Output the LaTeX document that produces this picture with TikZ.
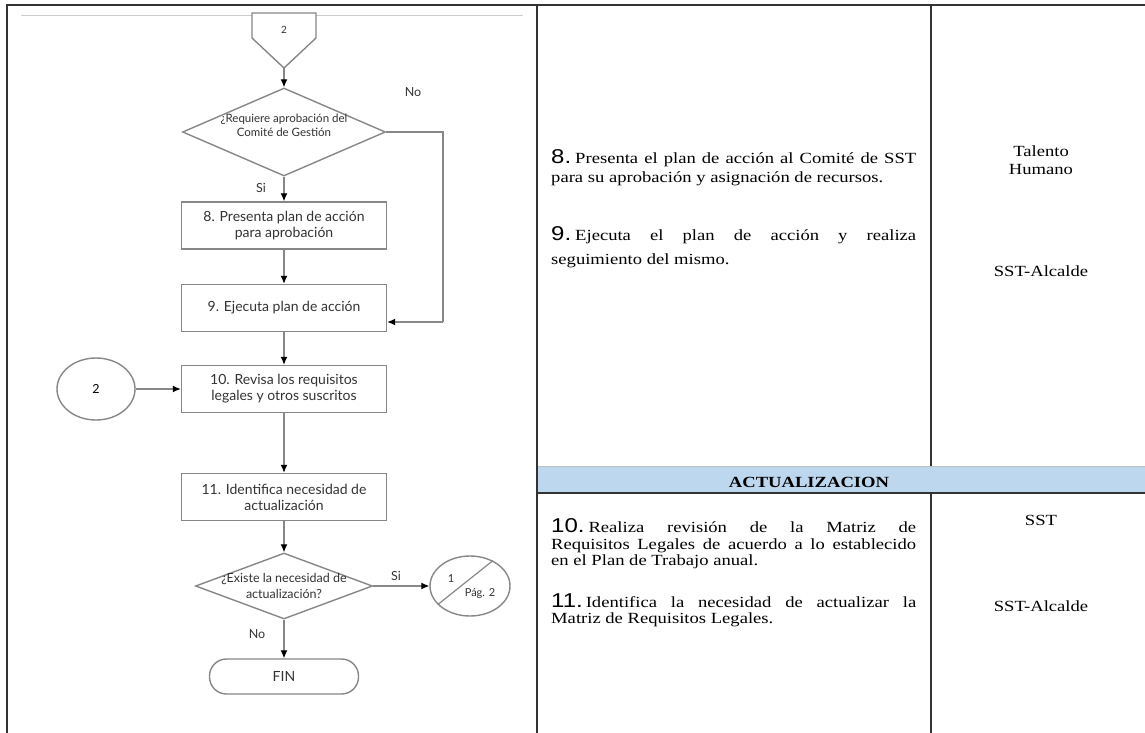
\documentclass[tikz,border=0pt]{standalone}
\usepackage{fontspec}
\setmainfont{Liberation Serif}
\newfontfamily\tnr[FakeStretch=1.2]{Liberation Serif}
\newfontfamily\arl[FakeStretch=1.2]{Liberation Sans}
\newfontfamily\gill{Lato}
\usetikzlibrary{arrows.meta,shapes.geometric}
\newcommand\rtxt{\tnr\fontsize{15.5}{18}\selectfont}
\newcommand\rnum{\arl\fontsize{20}{20}\selectfont}
\newcommand\ftxt{\gill\fontsize{12.5}{15.5}\selectfont}
\newcommand\fbtxt{\gill\fontsize{14}{16}\selectfont}
\definecolor{bandblue}{RGB}{189,215,238}
\definecolor{fgray}{RGB}{135,135,135}
\tikzset{
  tline/.style={draw=black!80, line width=1.4pt},
  fshape/.style={draw=fgray, line width=1.4pt, fill=white, inner sep=0pt},
  fbox/.style={fshape, rectangle, minimum width=205pt, minimum height=47pt, align=center, font=\fbtxt, text=black!80},
  flab/.style={font=\ftxt, text=black!80, inner sep=0pt, align=center},
  arr/.style={draw=fgray, line width=1.2pt, -{Latex[length=8pt,width=7pt,color=black]}},
  conn/.style={draw=fgray, line width=1.2pt},
  rline/.style={anchor=base west, inner sep=0pt},
  rcen/.style={anchor=base, inner sep=0pt, font=\rtxt},
}
\begin{document}
\begin{tikzpicture}[x=1pt,y=-1pt]
\useasboundingbox (0,0) rectangle (1145,733);
\fill[white] (0,0) rectangle (1145,733);

% ---- table frame ----
\fill[bandblue] (537,466) rectangle (1145,493);
\draw[draw=black!25, line width=1pt] (537,466) -- (1145,466);
\draw[tline] (537,493) -- (1145,493);
\draw[tline] (7,733) -- (7,5) -- (1145,5);
\draw[tline] (537,5) -- (537,733);
\draw[tline] (931,5) -- (931,466);
\draw[tline] (931,493) -- (931,733);
\draw[draw=black!20, line width=0.8pt] (21,15) -- (523,15);

% ---- flowchart ----
\draw[fshape] (252,13) -- (316,13) -- (316,38) -- (284,68) -- (252,38) -- cycle;
\coordinate (p2tip) at (284,68);
\node[flab, font=\gill\fontsize{10}{10}\selectfont] (p2lab) at (284,30) {2};

\node[fshape, diamond, minimum width=203pt, minimum height=88pt] (d1) at (284,132) {};
\node[flab, font=\gill\fontsize{11.5}{14}\selectfont] (d1t) at (284,125) {¿Requiere aprobación del\\Comité de Gestión};
\node[flab] (no1) at (413,92) {No};
\node[flab] (si1) at (261,188) {Si};

\node[fbox] (b8) at (284,225.5) {8. Presenta plan de acción\\para aprobación};
\node[fbox] (b9) at (284,308) {9. Ejecuta plan de acción};
\node[fbox] (b10) at (284,389) {10. Revisa los requisitos\\legales y otros suscritos};
\node[fbox] (b11) at (284,497) {11. Identifica necesidad de\\actualización};

\node[fshape, ellipse, minimum width=78pt, minimum height=62pt, font=\ftxt] (c2) at (96,389) {2};

\node[fshape, diamond, minimum width=177pt, minimum height=66pt] (d2) at (284,586) {};
\node[flab] (d2t) at (284,586) {¿Existe la necesidad de\\actualización?};
\node[flab] (si2) at (396,576) {Si};
\node[flab] (no2) at (257,634) {No};

\node[fshape, ellipse, minimum width=80pt, minimum height=60pt] (c1) at (470,586) {};
\draw[conn] (c1.210) -- (c1.48);
\node[flab, font=\gill\fontsize{11}{11}\selectfont] (c1a) at (451,579) {1};
\node[flab, font=\gill\fontsize{11}{11}\selectfont] (c1b) at (480,594) {Pág. 2};

\node[fbox, minimum width=149pt, minimum height=35pt, rounded corners=17pt] (fin) at (284,676.5) {FIN};

\draw[arr] (p2tip) -- (d1.north);
\draw[arr] (d1.south) -- (b8.north);
\draw[arr] (b8.south) -- (b9.north);
\coordinate (nojoin) at (443,322);
\draw[conn] (d1.east) -| (nojoin);
\draw[arr] (nojoin) -- (b9.east |- nojoin);
\draw[arr] (b9.south) -- (b10.north);
\draw[arr] (c2.east) -- (b10.west);
\draw[arr] (b10.south) -- (b11.north);
\draw[arr] (b11.south) -- (d2.north);
\draw[arr] (d2.east) -- (c1.west);
\draw[arr] (d2.south) -- (fin.north);

% ---- right columns ----
\node[rline] (t8a) at (551,163) {\makebox[365pt][s]{\rnum 8.\hspace{4pt}\rtxt Presenta el plan de acción al Comité de SST}};
\node[rline] (t8b) at (551,182) {\rtxt para su aprobación y asignación de recursos.};
\node[rline] (t9a) at (551,240) {\makebox[365pt][s]{\rnum 9.\hspace{4pt}\rtxt Ejecuta el plan de acción y realiza}};
\node[rline] (t9b) at (551,264) {\rtxt seguimiento del mismo.};

\node[rcen] (r1a) at (1041,156) {Talento};
\node[rcen] (r1b) at (1041,174) {Humano};
\node[rcen] (r2) at (1041,276) {SST-Alcalde};

\node[anchor=base, inner sep=0pt, font=\tnr\bfseries\fontsize{15.5}{18}\selectfont] (act) at (809,487) {ACTUALIZACION};

\node[rline] (t10a) at (551,532) {\makebox[365pt][s]{\rnum 10.\hspace{4pt}\rtxt Realiza revisión de la Matriz de}};
\node[rline] (t10b) at (551,549) {\makebox[365pt][s]{\rtxt Requisitos Legales de acuerdo a lo establecido}};
\node[rline] (t10c) at (551,565) {\rtxt en el Plan de Trabajo anual.};
\node[rline] (t11a) at (551,607) {\makebox[365pt][s]{\rnum 11.\hspace{3pt}\rtxt Identifica la necesidad de actualizar la}};
\node[rline] (t11b) at (551,623) {\rtxt Matriz de Requisitos Legales.};

\node[rcen] (r3) at (1041,525) {SST};
\node[rcen] (r4) at (1041,611) {SST-Alcalde};
\end{tikzpicture}
\end{document}
